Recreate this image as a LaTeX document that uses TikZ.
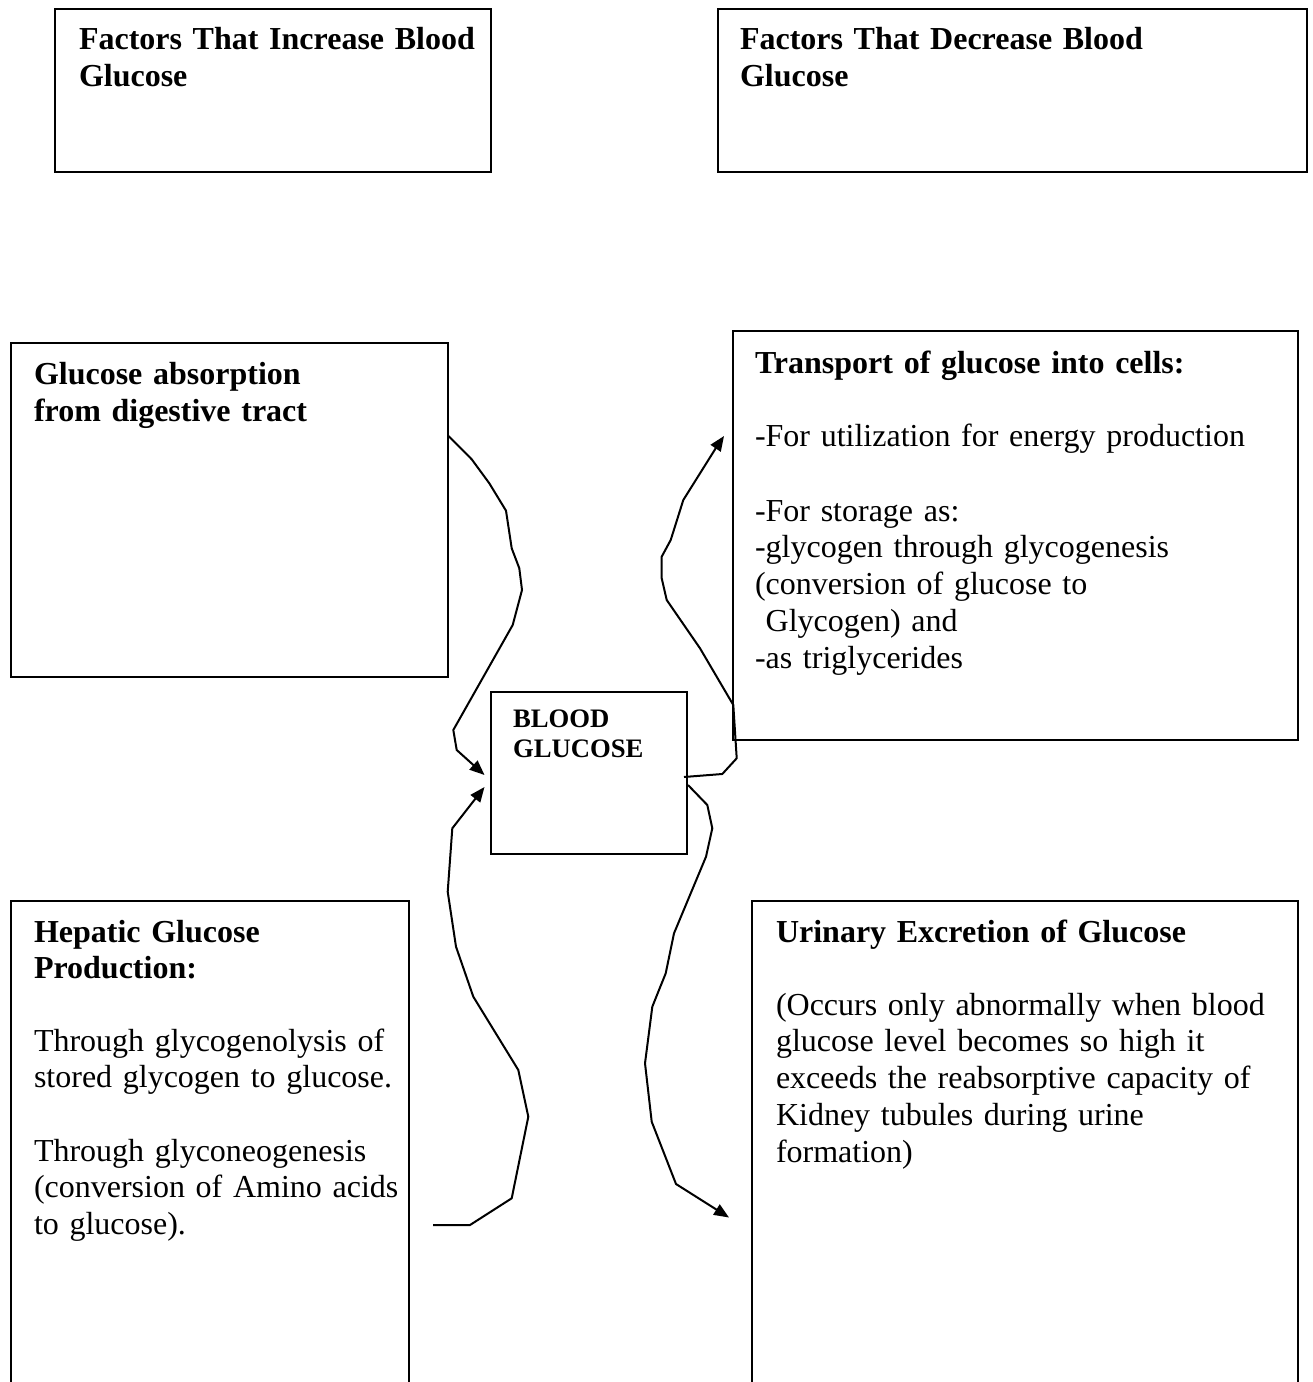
\documentclass[tikz,border=0pt]{standalone}
\usepackage{fontspec}
\setmainfont{Liberation Serif}
\usetikzlibrary{arrows.meta,calc,fit}

\tikzset{every picture/.style={line width=0.75pt}}

\begin{document}
\begin{tikzpicture}[x=0.375pt,y=0.375pt,yscale=-1,xscale=1,
  boxshape/.style={draw, rectangle, inner sep=0pt},
  plaintext/.style={anchor=base west, inner sep=0pt, text width=200pt, align=left, font=\fontsize{12}{13.8}\selectfont},
  boldtext/.style={plaintext, font=\fontsize{12}{13.8}\selectfont\bfseries},
  wiggle/.style={-{Triangle[length=5.6pt,width=4.5pt]}, line join=miter}]
\useasboundingbox (0,0) rectangle (1312,1382);
\clip (0,0) rectangle (1312,1382);

%Shape: Rectangle
\node [boxshape, fit={(55,9) (491,172)}] (incbox) {};
%Shape: Rectangle
\node [boxshape, fit={(718,9) (1307,172)}] (decbox) {};
%Shape: Rectangle
\node [boxshape, fit={(10.5,343) (447.5,677)}] (absorb) {};
%Shape: Rectangle
\node [boxshape, fit={(733,331) (1298,740)}] (transport) {};
%Shape: Rectangle
\node [boxshape, fit={(490.5,692) (687,854)}] (blood) {};
%Shape: Rectangle
\node [boxshape, fit={(10.5,900.5) (409,1400)}] (hepatic) {};
%Shape: Rectangle
\node [boxshape, fit={(752,900.5) (1298,1400)}] (urinary) {};

% Text Node
\node [boldtext] (inctext) at (78,50) {Factors That Increase Blood\\Glucose};
% Text Node
\node [boldtext] (dectext) at (739,50) {Factors That Decrease Blood\\Glucose};
% Text Node
\node [boldtext] (absorbtext) at (33,385) {Glucose absorption\\from digestive tract};
% Text Node
\node [boldtext] (transtext) at (754,374) {Transport of glucose into cells:};
% Text Node
\node [plaintext] (transuse) at (754,447) {-For utilization for energy production};
% Text Node
\node [plaintext] (transstore) at (754,521) {-For storage as:\\-glycogen through glycogenesis\\(conversion of glucose to\\\mbox{}\ Glycogen) and\\-as triglycerides};
% Text Node
\node [boldtext, font=\fontsize{10}{11.4}\selectfont\bfseries] (bloodtext) at (512,727) {BLOOD\\GLUCOSE};
% Text Node
\node [boldtext] (heptext) at (33,942) {Hepatic Glucose\\Production:};
% Text Node
\node [plaintext] (hepbody) at (33,1051) {Through glycogenolysis of\\stored glycogen to glucose.};
% Text Node
\node [plaintext] (hepbodyb) at (33,1161) {Through glyconeogenesis\\(conversion of Amino acids\\to glucose).};
% Text Node
\node [boldtext] (urintext) at (775,942) {Urinary Excretion of Glucose};
% Text Node
\node [plaintext] (urinbody) at (775,1015) {(Occurs only abnormally when blood\\glucose level becomes so high it\\exceeds the reabsorptive capacity of\\Kidney tubules during urine\\formation)};

\coordinate (hepout) at ($(hepatic.east |- 0,1225)+(23,0)$);

%Curve Lines
\draw [wiggle] (absorb.east |- 0,436) -- (471.7,459.3) -- (489.3,483.3) -- (506,510.7) -- (511.7,548.3) -- (519.3,568.3) -- (522,590) -- (512.7,625) -- (453.3,730) -- (456.7,750) -- ($(blood.west)+(-5,2)$);
%Curve Lines
\draw [wiggle] (hepout) -- (470,1225) -- (511.7,1198.3) -- (528.3,1116.7) -- (518.3,1070) -- (473.3,996.7) -- (456,946.7) -- (447.7,891.7) -- (452.3,828.3) -- ($(blood.west)+(-5,14)$);
%Curve Lines
\draw [wiggle] ($(blood.east)+(-4,4)$) -- (722.3,774) -- (736.7,758.3) -- (733.3,705) -- (700,648.3) -- (666.7,600) -- (661.7,578.3) -- (661.7,556.7) -- (670.7,540) -- (683.3,500) -- (716.7,446.7) -- ($(transport.north west)+(-8,106)$);
%Curve Lines
\draw [wiggle] ($(blood.east)+(0,12)$) -- (707.3,805) -- (712.3,828.3) -- (706,856.7) -- (674,933.3) -- (665.7,973.3) -- (652.3,1006.7) -- (645,1063.3) -- (651.7,1121.7) -- (676,1184) -- ($(urinary.north west)+(-22,318)$);

\end{tikzpicture}
\end{document}
